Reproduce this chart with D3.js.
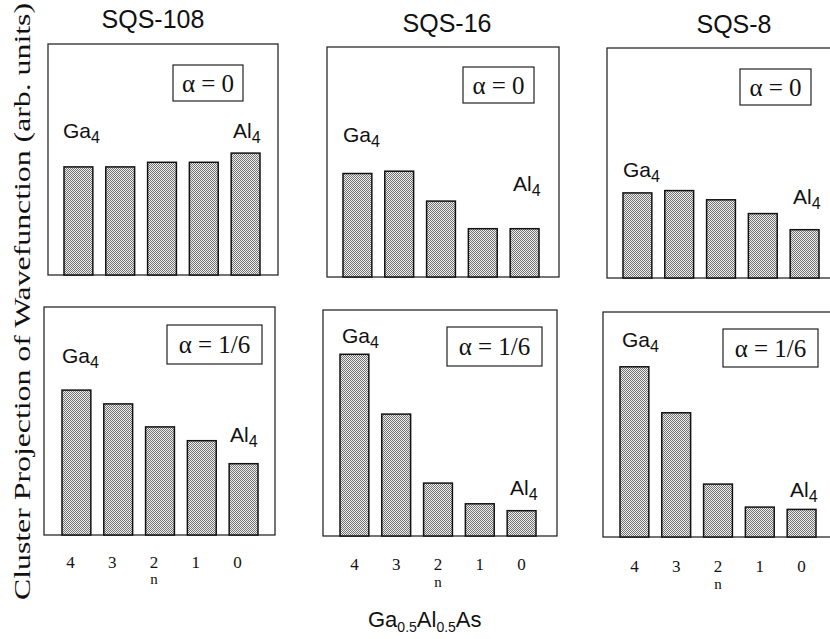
<!DOCTYPE html>
<html>
<head>
<meta charset="utf-8">
<script src="https://cdn.jsdelivr.net/npm/d3@7"></script>
<style>
  body { margin: 0; background: #fff; }
  svg { display: block; }
</style>
</head>
<body>
<div id="chart"></div>
<script>
// data (arb. units, 0-100 = full panel height)
const columns = ["SQS-108", "SQS-16", "SQS-8"];
const alphaLabels = ["α = 0", "α = 1/6"];
const nValues = [4, 3, 2, 1, 0];
const sqs108Alpha0 = [47, 47, 49, 49, 53];
const sqs16Alpha0 = [45, 46, 33, 21, 21];
const sqs8Alpha0 = [37, 38, 34, 28, 21];
const sqs108Alpha16 = [63, 57, 47, 41, 31];
const sqs16Alpha16 = [79, 53, 23, 14, 11];
const sqs8Alpha16 = [74, 54, 23, 13, 12];

const seriesByRow = [
  [sqs108Alpha0, sqs16Alpha0, sqs8Alpha0],
  [sqs108Alpha16, sqs16Alpha16, sqs8Alpha16]
];

// panel layout (frame, first bar x, alpha box, label spots)
const layout = [
  [
    { fx: 48, fy: 44, fw: 230, fh: 231, bx: 64, box: [173, 65, 70, 36], ga: [63, 138], al: [233, 138] },
    { fx: 327, fy: 47, fw: 232, fh: 230, bx: 343, box: [463, 67, 71, 36], ga: [343, 142], al: [513, 191] },
    { fx: 607, fy: 48, fw: 232, fh: 230, bx: 623, box: [740, 69, 71, 36], ga: [623, 177], al: [793, 204] }
  ],
  [
    { fx: 44, fy: 307, fw: 231, fh: 228, bx: 62, box: [167, 325, 95, 39], ga: [62, 363], al: [230, 442], tx: -6, ty: 568, ny: 584 },
    { fx: 323, fy: 310, fw: 234, fh: 226, bx: 340, box: [447, 327, 95, 39], ga: [342, 343], al: [510, 495], tx: 0, ty: 570, ny: 587 },
    { fx: 603, fy: 312, fw: 234, fh: 225, bx: 620, box: [723, 329, 95, 38], ga: [622, 347], al: [790, 497], tx: 0, ty: 572, ny: 589 }
  ]
];
const titleSpots = [[153, 28], [447, 32], [734, 33]];

const width = 830, height = 639;
const sans = "'Liberation Sans', Arial, Helvetica, sans-serif";
const serif = "'Liberation Serif', 'Times New Roman', serif";

const svg = d3.select("#chart").append("svg")
  .attr("width", width).attr("height", height);

// stipple fill like the printed bars
const pat = svg.append("defs").append("pattern")
  .attr("id", "stipple").attr("width", 2).attr("height", 2)
  .attr("patternUnits", "userSpaceOnUse");
pat.append("rect").attr("width", 2).attr("height", 2).attr("fill", "#eeeeee");
pat.append("rect").attr("width", 1).attr("height", 1).attr("fill", "#747474");
pat.append("rect").attr("x", 1).attr("y", 1).attr("width", 1).attr("height", 1).attr("fill", "#747474");

function sub(textSel, main, subscript, subSize, shift) {
  textSel.append("tspan").text(main);
  textSel.append("tspan").attr("font-size", subSize).attr("dy", shift).text(subscript);
}

// column titles
columns.forEach((c, i) => {
  svg.append("text")
    .attr("x", titleSpots[i][0]).attr("y", titleSpots[i][1])
    .attr("text-anchor", "middle")
    .attr("font-family", sans).attr("font-size", 25)
    .attr("fill", "#111").text(c);
});

seriesByRow.forEach((row, r) => {
  row.forEach((vals, c) => {
    const L = layout[r][c];
    const bottom = L.fy + L.fh;
    const x = d3.scaleBand().domain(nValues).range([L.bx, L.bx + 196])
      .paddingInner(0.31).paddingOuter(0);
    const y = d3.scaleLinear().domain([0, 100]).range([bottom, bottom - 230]);

    const g = svg.append("g");

    g.append("rect")
      .attr("x", L.fx).attr("y", L.fy).attr("width", L.fw).attr("height", L.fh)
      .attr("fill", "none").attr("stroke", "#2a2a2a").attr("stroke-width", 1.3);

    g.selectAll("rect.bar").data(vals).join("rect")
      .attr("class", "bar")
      .attr("x", (d, i) => x(nValues[i]))
      .attr("y", d => y(d))
      .attr("width", x.bandwidth())
      .attr("height", d => y(0) - y(d))
      .attr("fill", "url(#stipple)")
      .attr("stroke", "#111").attr("stroke-width", 1.5);

    // alpha box
    g.append("rect")
      .attr("x", L.box[0]).attr("y", L.box[1]).attr("width", L.box[2]).attr("height", L.box[3])
      .attr("fill", "#fff").attr("stroke", "#222").attr("stroke-width", 1.2);
    g.append("text")
      .attr("x", L.box[0] + L.box[2] / 2).attr("y", L.box[1] + L.box[3] / 2)
      .attr("dy", "0.35em").attr("text-anchor", "middle")
      .attr("font-family", serif).attr("font-size", 25).attr("fill", "#111")
      .text(alphaLabels[r]);

    // Ga4 / Al4 labels
    sub(g.append("text").attr("x", L.ga[0]).attr("y", L.ga[1])
      .attr("font-family", sans).attr("font-size", 21).attr("fill", "#111"), "Ga", "4", 16, 5);
    sub(g.append("text").attr("x", L.al[0]).attr("y", L.al[1])
      .attr("font-family", sans).attr("font-size", 21).attr("fill", "#111"), "Al", "4", 16, 5);

    // n tick labels under the bottom row
    if (r === 1) {
      const axis = g.append("g")
        .attr("transform", `translate(${L.tx},${L.ty - 14})`)
        .call(d3.axisBottom(x).tickSize(0).tickPadding(0));
      axis.select(".domain").remove();
      axis.selectAll("text")
        .attr("dy", 0).attr("y", 14)
        .attr("font-family", serif).attr("font-size", 17).attr("fill", "#111");
      g.append("text")
        .attr("x", x(2) + x.bandwidth() / 2 + L.tx).attr("y", L.ny)
        .attr("text-anchor", "middle")
        .attr("font-family", serif).attr("font-size", 15).attr("fill", "#111")
        .text("n");
    }
  });
});

// y axis title
svg.append("text")
  .attr("transform", "translate(30,600) rotate(-90)")
  .attr("font-family", serif).attr("font-size", 24).attr("fill", "#111")
  .attr("textLength", 597).attr("lengthAdjust", "spacingAndGlyphs")
  .text("Cluster Projection of Wavefunction (arb. units)");

// x title
const xt = svg.append("text")
  .attr("x", 368).attr("y", 627)
  .attr("font-family", sans).attr("font-size", 22).attr("fill", "#111");
xt.append("tspan").text("Ga");
xt.append("tspan").attr("font-size", 14).attr("dy", 5).text("0.5");
xt.append("tspan").attr("dy", -5).text("Al");
xt.append("tspan").attr("font-size", 14).attr("dy", 5).text("0.5");
xt.append("tspan").attr("dy", -5).text("As");
</script>
</body>
</html>
